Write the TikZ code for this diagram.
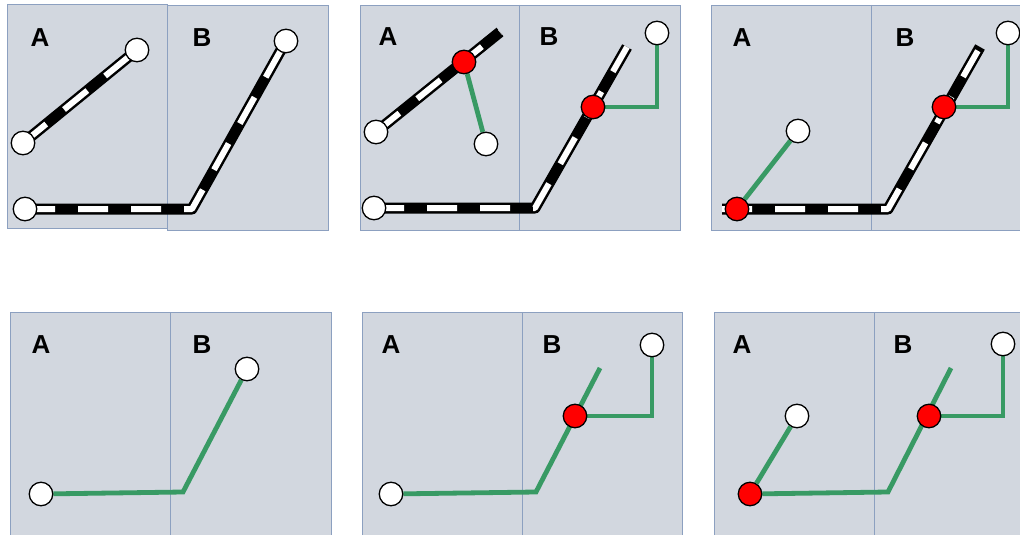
\documentclass[tikz,border=0pt]{standalone}
\usepackage{fontspec}
\setmainfont{Liberation Sans}
\definecolor{pfill}{RGB}{210,215,223}
\definecolor{pborder}{RGB}{140,160,192}
\definecolor{gr}{RGB}{56,154,100}
\pgfdeclarelayer{bg}
\pgfdeclarelayer{lines}
\pgfsetlayers{bg,lines,main}
\tikzset{
  panel/.style={fill=pfill, draw=pborder, line width=0.9pt},
  divider/.style={draw=pborder, line width=0.9pt},
  lbl/.style={font=\bfseries\fontsize{26}{26}\selectfont, text=black, inner sep=0pt},
  wnode/.style={circle, draw=black, fill=white, line width=1.3pt, minimum size=23.5pt, inner sep=0pt},
  rnode/.style={circle, draw=black, fill=red, line width=1.3pt, minimum size=23.5pt, inner sep=0pt},
  gline/.style={draw=gr, line width=4.8pt},
  rail/.style={draw=white, line width=6pt, dash pattern=on 30pt off 23pt, line join=round,
    preaction={draw=black, line width=11pt, solid, line join=round}},
}
\begin{document}
\begin{tikzpicture}[x=1pt,y=-1pt]
\useasboundingbox (0,0) rectangle (1020,535);
\begin{pgfonlayer}{bg}
  \fill[white] (0,0) rectangle (1020,535);
  % top row panels
  \draw[panel] (7,4) rectangle (167,228);
  \draw[panel] (167,5) rectangle (328,230);
  \draw[panel] (360,5) rectangle (680,230);
  \draw[divider] (519,5) -- (519,230);
  \draw[panel] (711,5) rectangle (1030,230);
  \draw[divider] (871,5) -- (871,230);
  % bottom row panels
  \draw[panel] (10,312) rectangle (331,545);
  \draw[divider] (170,312) -- (170,545);
  \draw[panel] (362,312) rectangle (682,545);
  \draw[divider] (522,312) -- (522,545);
  \draw[panel] (714,312) rectangle (1030,545);
  \draw[divider] (874,312) -- (874,545);
\end{pgfonlayer}

% labels
\node[lbl] (l1a) at (40,38) {A};
\node[lbl] (l1b) at (202,38) {B};
\node[lbl] (l2a) at (388,37) {A};
\node[lbl] (l2b) at (549,37) {B};
\node[lbl] (l3a) at (742,38) {A};
\node[lbl] (l3b) at (905,38) {B};
\node[lbl] (l4a) at (41,345) {A};
\node[lbl] (l4b) at (202,345) {B};
\node[lbl] (l5a) at (391,345) {A};
\node[lbl] (l5b) at (552,345) {B};
\node[lbl] (l6a) at (742,345) {A};
\node[lbl] (l6b) at (903,345) {B};

% ---- panel 1
\node[wnode] (p1a) at (23,143) {};
\node[wnode] (p1b) at (137,50) {};
\node[wnode] (p1c) at (25,209) {};
\coordinate (p1k) at (192,209);
\node[wnode] (p1d) at (286,41) {};

% ---- panel 2
\node[wnode] (p2a) at (376,132) {};
\coordinate (p2e) at (500,32);
\node[rnode] (p2r) at (464,62) {};
\node[wnode] (p2w) at (486,144) {};
\node[wnode] (p2c) at (374,208) {};
\coordinate (p2k) at (535,208);
\coordinate (p2f) at (627,47);
\node[rnode] (p2s) at (593,107) {};
\coordinate (p2g) at (657,107);
\node[wnode] (p2t) at (657,33) {};

% ---- panel 3
\coordinate (p3s) at (722,209);
\node[rnode] (p3r) at (737,209) {};
\coordinate (p3k) at (888,209);
\coordinate (p3f) at (980,47);
\node[rnode] (p3q) at (944,107) {};
\coordinate (p3g) at (1008,107);
\node[wnode] (p3t) at (1008,33) {};
\node[wnode] (p3w) at (798,131) {};

% ---- panel 4
\node[wnode] (p4a) at (41,494) {};
\coordinate (p4k) at (183,492);
\node[wnode] (p4b) at (247,369) {};

% ---- panel 5
\node[wnode] (p5a) at (391,494) {};
\coordinate (p5k) at (536,492);
\coordinate (p5e) at (600,368);
\node[rnode] (p5r) at (575,416) {};
\coordinate (p5g) at (652,416);
\node[wnode] (p5t) at (652,345) {};

% ---- panel 6
\node[rnode] (p6a) at (750,494) {};
\coordinate (p6k) at (888,492);
\coordinate (p6e) at (951,368);
\node[rnode] (p6r) at (929,416) {};
\coordinate (p6g) at (1003,416);
\node[wnode] (p6t) at (1003,344) {};
\node[wnode] (p6w) at (797,416) {};

\begin{pgfonlayer}{lines}
  % panel 1
  \draw[rail] (p1a.center) -- (p1b.center);
  \draw[rail] (p1c.center) -- (p1k) -- (p1d.center);
  % panel 2
  \draw[rail] (p2a.center) -- (p2e);
  \draw[gline] (p2r) -- (p2w);
  \draw[rail] (p2c.center) -- (p2k) -- (p2f);
  \draw[gline] (p2s.center) -- (p2g) -- (p2t);
  % panel 3
  \draw[rail] (p3s) -- (p3k) -- (p3f);
  \draw[gline] (p3r) -- (p3w);
  \draw[gline] (p3q.center) -- (p3g) -- (p3t);
  % panel 4
  \draw[gline] (p4a) -- (p4k) -- (p4b);
  % panel 5
  \draw[gline] (p5a) -- (p5k) -- (p5e);
  \draw[gline] (p5r.center) -- (p5g) -- (p5t);
  % panel 6
  \draw[gline] (p6a) -- (p6k) -- (p6e);
  \draw[gline] (p6r.center) -- (p6g) -- (p6t);
  \draw[gline] (p6a) -- (p6w);
\end{pgfonlayer}
\end{tikzpicture}
\end{document}
